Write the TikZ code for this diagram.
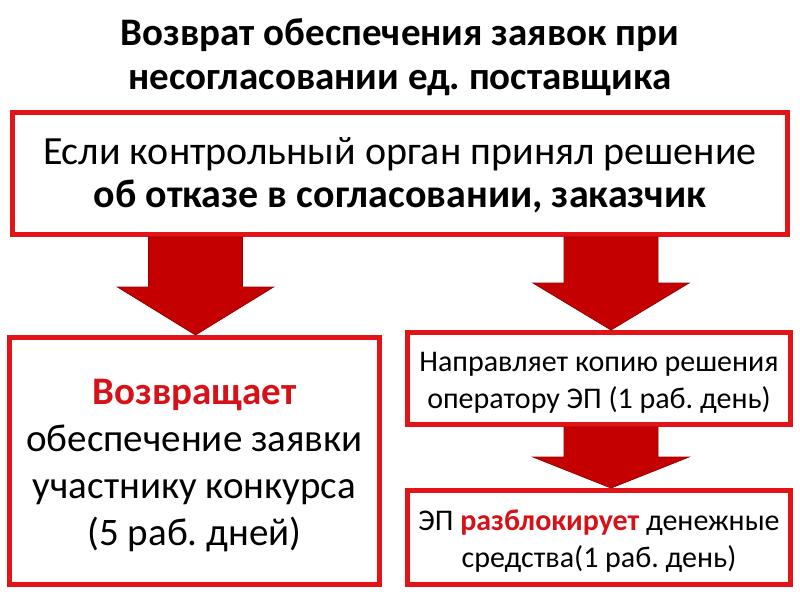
\documentclass[tikz,border=0pt]{standalone}
\usepackage{fontspec}
\setmainfont{Carlito}
\usetikzlibrary{calc}
\definecolor{boxred}{RGB}{226,20,24}
\definecolor{arrowred}{RGB}{196,0,0}
\definecolor{arrowdark}{RGB}{150,0,0}
\definecolor{textred}{RGB}{214,18,24}
\tikzset{
  redbox/.style={draw=boxred, line width=5pt, fill=white, inner sep=0pt},
  boxtext/.style={align=center, text=black, inner sep=0pt},
  barrow/.style={fill=arrowred, draw=arrowdark, line width=0.8pt, line join=miter},
  titletext/.style={align=center, font=\fontsize{39}{44}\selectfont\bfseries},
}
% #1 x centre, #2 from node, #3 to node, #4 head length
\newcommand{\blockarrow}[4]{%
  \path[barrow] let \p1=(#2.south), \p2=(#3.north) in
    (#1-47,\y1) -- (#1+47,\y1) -- (#1+47,\y2+#4pt) -- (#1+78,\y2+#4pt) --
    (#1,\y2) -- (#1-78,\y2+#4pt) -- (#1-47,\y2+#4pt) -- cycle;}
\frenchspacing
\begin{document}
\begin{tikzpicture}[x=1pt,y=-1pt]
\useasboundingbox (0,0) rectangle (800,600);
\fill[white] (0,0) rectangle (800,600);
\node[titletext] (title) at (400,57) {Возврат обеспечения заявок при\\несогласовании ед. поставщика};
\node[redbox, minimum width=775pt, minimum height=122pt] (top) at (400,173.5) {};
\node[boxtext, font=\fontsize{40}{43}\selectfont] (toptext) at ($(top.center)+(0,2)$)
  {Если контрольный орган принял решение\\\textbf{об отказе в согласовании, заказчик}};
\node[redbox, minimum width=370pt, minimum height=247pt] (left) at (194.5,461) {};
\node[boxtext, font=\fontsize{39}{47}\selectfont] (lefttext) at ($(left.center)+(0,5)$)
  {\textcolor{textred}{\textbf{Возвращает}}\\обеспечение заявки\\участнику конкурса\\(5 раб. дней)};
\node[redbox, minimum width=383pt, minimum height=92pt] (r1) at (599,378.5) {};
\node[boxtext, font=\fontsize{30}{37}\selectfont] (r1text) at ($(r1.center)+(0,4.5)$)
  {Направляет копию решения\\оператору ЭП (1 раб. день)};
\node[redbox, minimum width=383pt, minimum height=94pt] (r2) at (599,537.5) {};
\node[boxtext, font=\fontsize{30}{37}\selectfont] (r2text) at ($(r2.center)+(0,3.5)$)
  {ЭП \textcolor{textred}{\textbf{разблокирует}} денежные\\средства(1 раб. день)};
\blockarrow{195.5}{top}{left}{48}
\blockarrow{611}{top}{r1}{47}
\blockarrow{611}{r1}{r2}{31}
\end{tikzpicture}
\end{document}
